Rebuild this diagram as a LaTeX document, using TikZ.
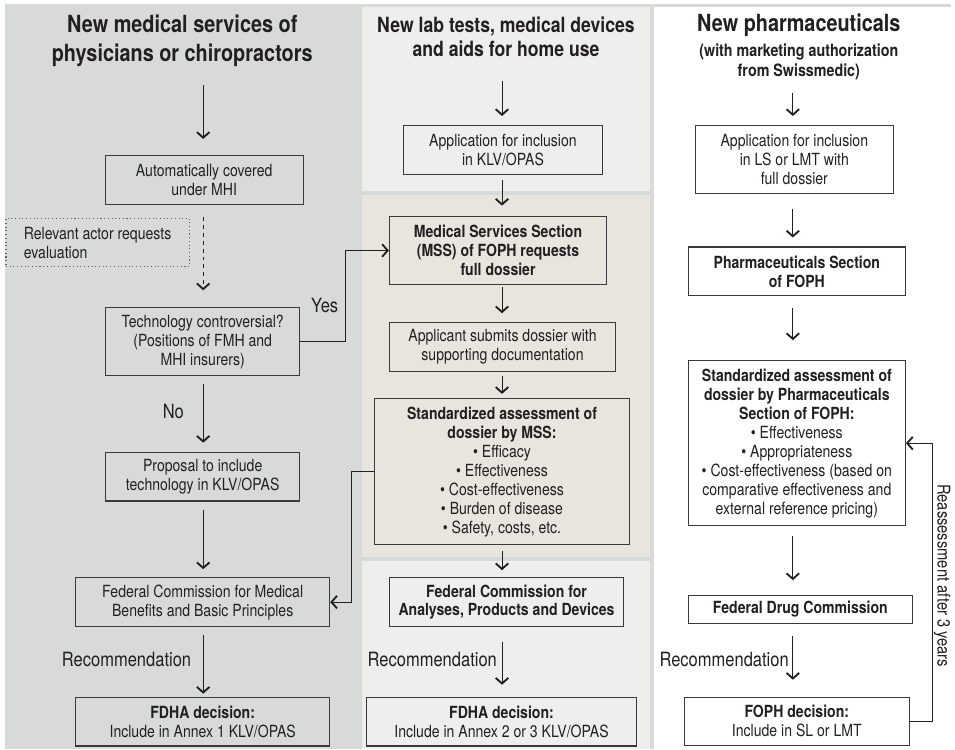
\documentclass[tikz,border=0pt]{standalone}
\usepackage{fontspec}
\setmainfont{TeX Gyre Heros}[FakeStretch=0.84]
\usetikzlibrary{arrows.meta,positioning}
\definecolor{leftgray}{HTML}{D8DADA}
\definecolor{midlight}{HTML}{EEEEEC}
\definecolor{beige}{HTML}{E8E5DE}
\definecolor{boxline}{HTML}{3A3A3A}
\definecolor{ink}{HTML}{231F20}

\begin{document}
\begin{tikzpicture}[x=0.75pt, y=-0.75pt,
    box/.style={draw=boxline, line width=0.8pt, align=center, text=ink, inner sep=2pt, font=\fontsize{12.6}{14.3}\selectfont},
    boldbox/.style={box, font=\bfseries\fontsize{12.6}{14.3}\selectfont},
    bigtitle/.style={align=center, text=ink, font=\bfseries\fontsize{17.8}{21.8}\selectfont},
    lbl/.style={text=ink, font=\fontsize{14.8}{16}\selectfont},
    arr/.style={draw=ink, line width=0.75pt, -{Straight Barb[length=4.2pt,width=9.5pt,line width=1.4pt]}}
]
    % panels
    \fill[white] (0,0) rectangle (955,752);
    \fill[leftgray] (5,4) rectangle (955,752);
    \fill[midlight] (363,7) rectangle (653,192);
    \fill[beige] (363,196) rectangle (653,559);
    \fill[midlight] (363,563) rectangle (653,752);
    \fill[white] (657,7) rectangle (955,752);
    \coordinate (axisL) at (204,0);
    \coordinate (axisM) at (504,0);
    \coordinate (axisR) at (796,0);

    % left column
    \node[bigtitle] (titleL) at (183,41) {New medical services of\\physicians or chiropractors};
    \node[box, minimum width=149pt, minimum height=36.75pt] (auto) at (205,180.5) {Automatically covered\\under MHI};
    \node[box, draw=boxline!80, dotted, minimum width=138pt, minimum height=36.75pt, align=left] (actor) at (98,243.5) {Relevant actor requests\\evaluation};
    \node[box, minimum width=146.25pt, minimum height=51pt] (tech) at (203.5,343) {Technology controversial?\\(Positions of FMH and\\MHI insurers)};
    \node[box, minimum width=146.25pt, minimum height=36.75pt] (proposal) at (203.5,478.5) {Proposal to include\\technology in KLV/OPAS};
    \node[box, minimum width=191.25pt, minimum height=36.75pt] (fedL) at (203.5,604.5) {Federal Commission for Medical\\Benefits and Basic Principles};
    \node[box, minimum width=191.25pt, minimum height=36.75pt] (fdhaL) at (203.5,724.5) {\textbf{FDHA decision:}\\Include in Annex 1 KLV/OPAS};
    \node[lbl] (yes) at (326,307) {Yes};
    \node[lbl] (no) at (174,413) {No};
    \node[lbl] (recL) at (127,662) {Recommendation};

    \draw[arr, shorten <=10.5pt, shorten >=12pt] (titleL.south -| axisL) -- (auto.north -| axisL);
    \draw[arr, dashed, shorten <=9pt, shorten >=12.75pt] (auto.south -| axisL) -- (tech.north -| axisL);
    \draw[arr, shorten <=6pt, shorten >=6.75pt] (tech.south -| axisL) -- (proposal.north -| axisL);
    \draw[arr, shorten <=6.75pt, shorten >=6pt] (proposal.south -| axisL) -- (fedL.north -| axisL);
    \draw[arr, shorten <=6pt, shorten >=2.25pt] (fedL.south -| axisL) -- (fdhaL.north -| axisL);

    % middle column
    \node[bigtitle, font=\bfseries\fontsize{15.8}{18}\selectfont] (titleM) at (508,37) {New lab tests, medical devices\\and aids for home use};
    \node[box, minimum width=150pt, minimum height=36.75pt] (appM) at (505,150.5) {Application for inclusion\\in KLV/OPAS};
    \node[boldbox, minimum width=163.5pt, minimum height=51.75pt] (mss) at (500,251.5) {Medical Services Section\\(MSS) of FOPH requests\\full dossier};
    \node[box, minimum width=170.25pt, minimum height=36.75pt] (applicant) at (504.5,348.5) {Applicant submits dossier with\\supporting documentation};
    \node[box, minimum width=192pt, minimum height=110.25pt] (assessM) at (504,473.5) {\textbf{Standardized assessment of}\\\textbf{dossier by MSS:}\\\textbullet~Efficacy\\\textbullet~Effectiveness\\\textbullet~Cost-effectiveness\\\textbullet~Burden of disease\\\textbullet~Safety, costs, etc.};
    \node[boldbox, minimum width=176.25pt, minimum height=36.75pt] (fedM) at (508.5,604.5) {Federal Commission for\\Analyses, Products and Devices};
    \node[box, minimum width=203.25pt, minimum height=36.75pt] (fdhaM) at (503.5,724.5) {\textbf{FDHA decision:}\\Include in Annex 2 or 3 KLV/OPAS};
    \node[lbl] (recM) at (434,662) {Recommendation};

    \draw[arr, shorten <=15pt, shorten >=6.75pt] (titleM.south -| axisM) -- (appM.north -| axisM);
    \draw[arr, shorten <=3.75pt, shorten >=7.5pt] (appM.south -| axisM) -- (mss.north -| axisM);
    \draw[arr, shorten <=1.5pt, shorten >=6.75pt] (mss.south -| axisM) -- (applicant.north -| axisM);
    \draw[arr, shorten <=3pt, shorten >=3pt] (applicant.south -| axisM) -- (assessM.north -| axisM);
    \draw[arr, shorten <=4.5pt, shorten >=5.25pt] (assessM.south -| axisM) -- (fedM.north -| axisM);
    \draw[arr, shorten <=11.25pt, shorten >=9pt] (fedM.south -| axisM) -- (fdhaM.north -| axisM);
    \draw[arr] (tech.east) -- ++(45,0) |- (mss.west);
    \draw[arr] (assessM.west) -- ++(-23,0) |- (fedL.east);

    % right column
    \node[bigtitle] (titleR) at (802,25) {New pharmaceuticals};
    \node[align=center, text=ink, font=\bfseries\fontsize{12.8}{15}\selectfont, below=-1pt of titleR] (subR) {(with marketing authorization\\from Swissmedic)};
    \node[box, minimum width=149.25pt, minimum height=51pt] (appR) at (797.5,160) {Application for inclusion\\in LS or LMT with\\full dossier};
    \node[boldbox, minimum width=163.5pt, minimum height=36.75pt] (pharm) at (800,272.5) {Pharmaceuticals Section\\of FOPH};
    \node[box, minimum width=163.5pt, minimum height=124.5pt] (assessR) at (800,445) {\textbf{Standardized assessment of}\\\textbf{dossier by Pharmaceuticals}\\\textbf{Section of FOPH:}\\\textbullet~Effectiveness\\\textbullet~Appropriateness\\\textbullet~Cost-effectiveness (based on\\comparative effectiveness and\\external reference pricing)};
    \node[boldbox, minimum width=168.75pt, minimum height=21pt] (fdc) at (803.5,612) {Federal Drug Commission};
    \node[box, minimum width=169.5pt, minimum height=36pt] (foph) at (800,724) {\textbf{FOPH decision:}\\Include in SL or LMT};
    \node[lbl] (recR) at (727,662) {Recommendation};
    \node[text=ink, rotate=-90, font=\fontsize{13.2}{15}\selectfont] (reass) at (946,578) {Reassessment after 3 years};

    \draw[arr, shorten <=6pt, shorten >=6.75pt] (subR.south -| axisR) -- (appR.north -| axisR);
    \draw[arr, shorten <=11.25pt, shorten >=6.75pt] (appR.south -| axisR) -- (pharm.north -| axisR);
    \draw[arr, shorten <=9pt, shorten >=15pt] (pharm.south -| axisR) -- (assessR.north -| axisR);
    \draw[arr, shorten <=7.5pt, shorten >=11.25pt] (assessR.south -| axisR) -- (fdc.north -| axisR);
    \draw[arr, shorten <=9pt, shorten >=12.75pt] (fdc.south -| axisR) -- (foph.north -| axisR);
    \draw[arr] (foph.east) -- ++(23,0) |- (assessR.east);
\end{tikzpicture}
\end{document}
